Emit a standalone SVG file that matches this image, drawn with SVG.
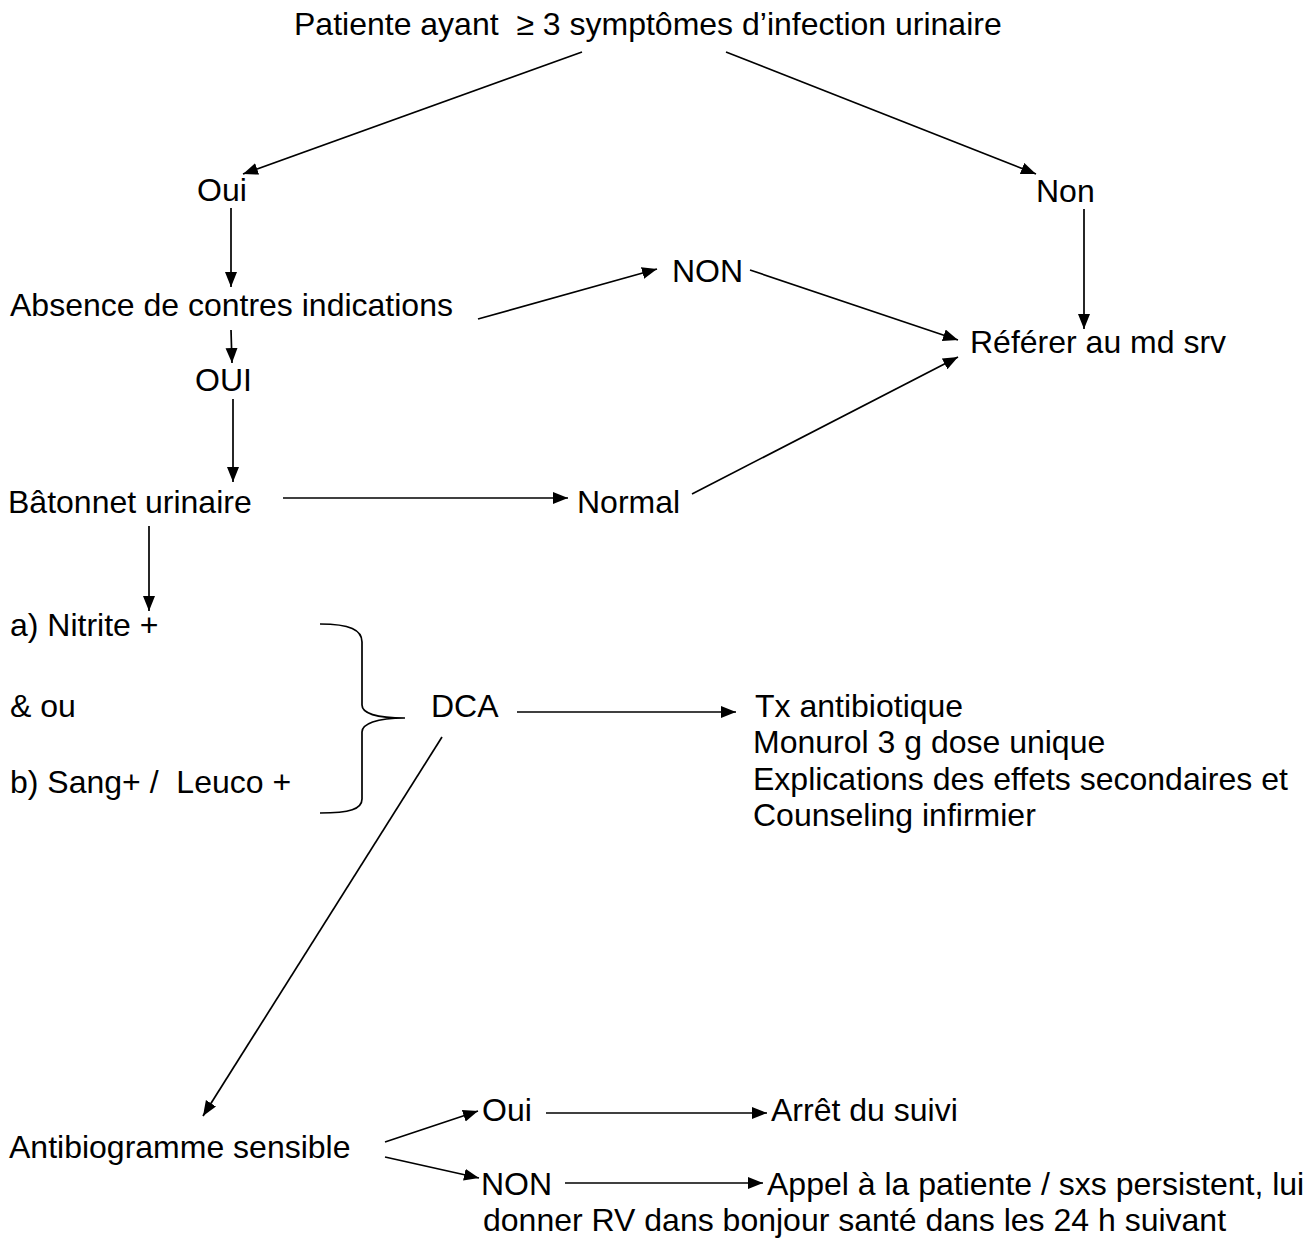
<svg xmlns="http://www.w3.org/2000/svg" width="1316" height="1238" viewBox="0 0 1316 1238">
<style>
text{font-family:"Liberation Sans",Arial,sans-serif;font-size:32px;fill:#000;white-space:pre}
.c{stroke:#000;stroke-width:1.7;fill:none}
</style>
<defs>
<marker id="ah" markerUnits="userSpaceOnUse" markerWidth="18" markerHeight="14" refX="15" refY="6" orient="auto">
<path d="M0,0 L15,6 L0,12 z" fill="#000"/>
</marker>
</defs>
<rect width="1316" height="1238" fill="#fff"/>
<g id="connectors">
<line class="c" x1="582" y1="52" x2="243" y2="174" marker-end="url(#ah)"/>
<line class="c" x1="726" y1="52" x2="1036" y2="174" marker-end="url(#ah)"/>
<line class="c" x1="231" y1="208" x2="231" y2="287" marker-end="url(#ah)"/>
<line class="c" x1="1084" y1="209" x2="1084" y2="329" marker-end="url(#ah)"/>
<line class="c" x1="478" y1="319" x2="657" y2="269" marker-end="url(#ah)"/>
<line class="c" x1="750" y1="270" x2="958" y2="340" marker-end="url(#ah)"/>
<line class="c" x1="231" y1="330" x2="232" y2="363" marker-end="url(#ah)"/>
<line class="c" x1="233" y1="399" x2="233" y2="482" marker-end="url(#ah)"/>
<line class="c" x1="283" y1="498" x2="568" y2="498" marker-end="url(#ah)"/>
<line class="c" x1="692" y1="494" x2="958" y2="357" marker-end="url(#ah)"/>
<line class="c" x1="149" y1="526" x2="149" y2="611" marker-end="url(#ah)"/>
<path class="c" d="M320,624 C350,624 362,630 362,642 L362,705 C362,713 376,718 405,718 C376,718 362,724 362,732 L362,799 C362,809 350,813 320,813"/>
<line class="c" x1="517" y1="712" x2="736" y2="712" marker-end="url(#ah)"/>
<line class="c" x1="442" y1="737" x2="203" y2="1116" marker-end="url(#ah)"/>
<line class="c" x1="385" y1="1142" x2="478" y2="1111" marker-end="url(#ah)"/>
<line class="c" x1="385" y1="1157" x2="479" y2="1178" marker-end="url(#ah)"/>
<line class="c" x1="546" y1="1113" x2="767" y2="1113" marker-end="url(#ah)"/>
<line class="c" x1="565" y1="1183" x2="763" y2="1183" marker-end="url(#ah)"/>
</g>
<g id="n-title"><text x="294" y="35">Patiente ayant  ≥ 3 symptômes d’infection urinaire</text></g>
<g id="n-oui"><text x="197" y="201">Oui</text></g>
<g id="n-non"><text x="1036" y="202">Non</text></g>
<g id="n-non2"><text x="672" y="282">NON</text></g>
<g id="n-absence"><text x="10" y="316">Absence de contres indications</text></g>
<g id="n-referer"><text x="970" y="353">Référer au md srv</text></g>
<g id="n-oui2"><text x="195" y="391">OUI</text></g>
<g id="n-batonnet"><text x="8" y="513">Bâtonnet urinaire</text></g>
<g id="n-normal"><text x="577" y="513">Normal</text></g>
<g id="n-nitrite"><text x="10" y="636">a) Nitrite +</text></g>
<g id="n-ou"><text x="10" y="717">&amp; ou</text></g>
<g id="n-sang"><text x="10" y="793">b) Sang+ /  Leuco +</text></g>
<g id="n-dca"><text x="431" y="717">DCA</text></g>
<g id="n-tx">
<text x="755" y="717">Tx antibiotique</text>
<text x="753" y="753">Monurol 3 g dose unique</text>
<text x="753" y="790">Explications des effets secondaires et</text>
<text x="753" y="826">Counseling infirmier</text>
</g>
<g id="n-antibio"><text x="9" y="1158">Antibiogramme sensible</text></g>
<g id="n-oui3"><text x="482" y="1121">Oui</text></g>
<g id="n-arret"><text x="771" y="1121">Arrêt du suivi</text></g>
<g id="n-non3"><text x="481" y="1195">NON</text></g>
<g id="n-appel">
<text x="767" y="1195">Appel à la patiente / sxs persistent, lui</text>
<text x="483" y="1231">donner RV dans bonjour santé dans les 24 h suivant</text>
</g>
</svg>
